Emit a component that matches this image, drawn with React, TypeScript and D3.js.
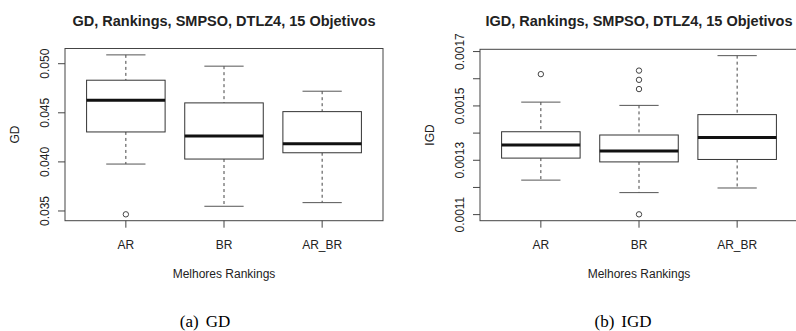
import React, { useEffect, useRef } from "react";
import * as d3 from "d3";

const categories = ["AR", "BR", "AR_BR"];

// GD boxplot stats
const gdLower = [0.03978, 0.03548, 0.03585];
const gdQ1 = [0.04305, 0.04029, 0.04093];
const gdMedian = [0.04628, 0.04264, 0.04185];
const gdQ3 = [0.04832, 0.04601, 0.04512];
const gdUpper = [0.0509, 0.04975, 0.0472];
const gdOutliers = [[0.03466], [], []];
const gdTicks = [0.035, 0.04, 0.045, 0.05];
const gdTickLabels = ["0.035", "0.040", "0.045", "0.050"];

// IGD boxplot stats
const igdLower = [0.001227, 0.001181, 0.001198];
const igdQ1 = [0.001308, 0.001294, 0.001303];
const igdMedian = [0.001356, 0.001334, 0.001384];
const igdQ3 = [0.001405, 0.001393, 0.001468];
const igdUpper = [0.001514, 0.001502, 0.001685];
const igdOutliers = [[0.001617], [0.00163, 0.001596, 0.001562, 0.001101], []];
const igdTicks = [0.0011, 0.0012, 0.0013, 0.0014, 0.0015, 0.0016, 0.0017];
const igdTickLabels = ["0.0011", "", "0.0013", "", "0.0015", "", "0.0017"];

const SANS = "'Liberation Sans', Arial, Helvetica, sans-serif";
const SERIF = "'Liberation Serif', 'Times New Roman', serif";

function drawPanel(svg, cfg) {
  const { left, top, bottom, width, title, yLabel, caption, capX, stats, ticks, tickLabels } = cfg;
  const g = svg.append("g");
  const right = left + width;

  // all values incl outliers -> R style 4% extension
  let all = [];
  stats.lower.forEach((v, i) => {
    all = all.concat([v, stats.upper[i]], stats.outliers[i]);
  });
  const [mn, mx] = d3.extent(all);
  const pad = (mx - mn) * 0.04;
  const y = d3.scaleLinear().domain([mn - pad, mx + pad]).range([bottom, top]);
  const x = d3.scaleLinear().domain([0.38, 3.62]).range([left, right]);
  const bw = x(1.4) - x(1);

  // frame
  g.append("rect")
    .attr("x", left)
    .attr("y", top)
    .attr("width", width)
    .attr("height", bottom - top)
    .attr("fill", "none")
    .attr("stroke", "#444")
    .attr("stroke-width", 1);

  // title
  g.append("text")
    .attr("x", (left + right) / 2)
    .attr("y", 25.5)
    .attr("text-anchor", "middle")
    .attr("font-family", SANS)
    .attr("font-weight", "bold")
    .attr("font-size", 14.5)
    .attr("fill", "#222")
    .text(title);

  // y axis ticks
  ticks.forEach((t, i) => {
    g.append("line")
      .attr("x1", left - 7)
      .attr("x2", left)
      .attr("y1", y(t))
      .attr("y2", y(t))
      .attr("stroke", "#444");
    if (tickLabels[i]) {
      g.append("text")
        .attr("transform", "translate(" + (left - 20) + "," + y(t) + ") rotate(-90)")
        .attr("text-anchor", "middle")
        .attr("dominant-baseline", "central")
        .attr("font-family", SANS)
        .attr("font-size", 12)
        .attr("fill", "#222")
        .text(tickLabels[i]);
    }
  });

  g.append("text")
    .attr("transform", "translate(" + (left - 50) + "," + (top + bottom) / 2 + ") rotate(-90)")
    .attr("text-anchor", "middle")
    .attr("dominant-baseline", "central")
    .attr("font-family", SANS)
    .attr("font-size", 12)
    .attr("fill", "#222")
    .text(yLabel);

  // x axis
  categories.forEach((c, i) => {
    const cx = x(i + 1);
    g.append("line")
      .attr("x1", cx)
      .attr("x2", cx)
      .attr("y1", bottom)
      .attr("y2", bottom + 7)
      .attr("stroke", "#444");
    g.append("text")
      .attr("x", cx)
      .attr("y", 249)
      .attr("text-anchor", "middle")
      .attr("font-family", SANS)
      .attr("font-size", 12)
      .attr("fill", "#222")
      .text(c);
  });

  g.append("text")
    .attr("x", (left + right) / 2)
    .attr("y", 278)
    .attr("text-anchor", "middle")
    .attr("font-family", SANS)
    .attr("font-size", 12)
    .attr("fill", "#222")
    .text("Melhores Rankings");

  // boxes
  categories.forEach((c, i) => {
    const cx = x(i + 1);
    // whiskers (dashed)
    g.append("line")
      .attr("x1", cx).attr("x2", cx)
      .attr("y1", y(stats.upper[i])).attr("y2", y(stats.q3[i]))
      .attr("stroke", "#444").attr("stroke-dasharray", "3,3");
    g.append("line")
      .attr("x1", cx).attr("x2", cx)
      .attr("y1", y(stats.q1[i])).attr("y2", y(stats.lower[i]))
      .attr("stroke", "#444").attr("stroke-dasharray", "3,3");
    // caps
    [stats.upper[i], stats.lower[i]].forEach(v => {
      g.append("line")
        .attr("x1", cx - bw / 2).attr("x2", cx + bw / 2)
        .attr("y1", y(v)).attr("y2", y(v))
        .attr("stroke", "#555");
    });
    g.append("rect")
      .attr("x", cx - bw)
      .attr("y", y(stats.q3[i]))
      .attr("width", bw * 2)
      .attr("height", y(stats.q1[i]) - y(stats.q3[i]))
      .attr("fill", "#fff")
      .attr("stroke", "#333");
    g.append("line")
      .attr("x1", cx - bw).attr("x2", cx + bw)
      .attr("y1", y(stats.median[i])).attr("y2", y(stats.median[i]))
      .attr("stroke", "#111").attr("stroke-width", 3);
    stats.outliers[i].forEach(v => {
      g.append("circle")
        .attr("cx", cx).attr("cy", y(v)).attr("r", 2.7)
        .attr("fill", "none").attr("stroke", "#444");
    });
  });

  // caption
  const cap = g.append("text")
    .attr("x", capX)
    .attr("y", 327)
    .attr("text-anchor", "middle")
    .attr("font-family", SERIF)
    .attr("font-size", 17)
    .attr("fill", "#000");
  cap.append("tspan").text(caption[0]);
  cap.append("tspan").attr("dx", 7).text(caption[1]);
}

export default function App() {
  const ref = useRef(null);
  useEffect(() => {
    const svg = d3.select(ref.current);
    svg.selectAll("*").remove();
    drawPanel(svg, {
      left: 65, top: 48.5, bottom: 220.7, width: 318,
      title: "GD, Rankings, SMPSO, DTLZ4, 15 Objetivos",
      yLabel: "GD", caption: ["(a)", "GD"], capX: 205,
      stats: { lower: gdLower, q1: gdQ1, median: gdMedian, q3: gdQ3, upper: gdUpper, outliers: gdOutliers },
      ticks: gdTicks, tickLabels: gdTickLabels
    });
    drawPanel(svg, {
      left: 480, top: 49.3, bottom: 220.7, width: 318,
      title: "IGD, Rankings, SMPSO, DTLZ4, 15 Objetivos",
      yLabel: "IGD", caption: ["(b)", "IGD"], capX: 623,
      stats: { lower: igdLower, q1: igdQ1, median: igdMedian, q3: igdQ3, upper: igdUpper, outliers: igdOutliers },
      ticks: igdTicks, tickLabels: igdTickLabels
    });
  }, []);
  return (
    <div style={{ position: "absolute", left: 0, top: 0 }}>
      <svg ref={ref} width={796} height={331} style={{ display: "block", background: "#fff" }} />
    </div>
  );
}
